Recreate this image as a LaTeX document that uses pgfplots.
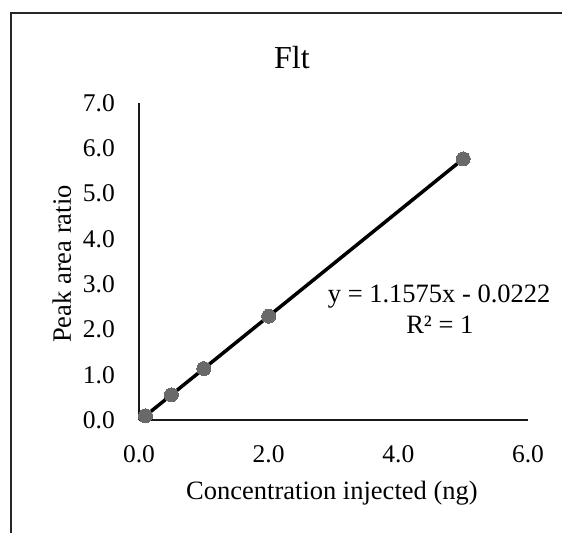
\documentclass[border=0pt]{standalone}
\usepackage{fontspec}
\setmainfont{Liberation Serif}
\usepackage{pgfplots}
\pgfplotsset{compat=1.18}
\definecolor{markgray}{RGB}{105,105,105}
\begin{document}
\begin{tikzpicture}[x=1pt,y=1pt]
\useasboundingbox (0,0) rectangle (562,533);
\draw[line width=1.5pt, black!85] (11,0) -- (11,520) -- (562,520);
\begin{axis}[at={(139pt,113pt)}, anchor=south west, scale only axis,
  width=389pt, height=317pt,
  xmin=0, xmax=6, ymin=0, ymax=7,
  axis x line=bottom, axis y line=left,
  axis line style={-, line width=1.2pt, black!90},
  xtick={0,2,4,6}, ytick={0,1,2,3,4,5,6,7},
  major tick length=0pt, tick style={draw=none},
  /pgf/number format/.cd, fixed, fixed zerofill, precision=1, assume math mode=true,
  /pgfplots/.cd,
  tick label style={font=\fontsize{25.5}{30}\selectfont, inner sep=0pt},
  xticklabel style={anchor=north, yshift=-25pt},
  yticklabel style={anchor=east, xshift=-24pt},
  clip=false]
\addplot[only marks, mark=*, mark size=7pt, mark options={fill=markgray, draw=markgray, line width=0pt}]
  coordinates {(0.1,0.094) (0.5,0.557) (1,1.135) (2,2.293) (5,5.765)};
\addplot[black, line width=3.5pt] coordinates {(0.1,0.0936) (5,5.7653)};
\node[anchor=base, font=\fontsize{26.5}{30}\selectfont, inner sep=0pt] at (rel axis cs:0.496,-0.252) {Concentration injected (ng)};
\node[anchor=base, rotate=90, font=\fontsize{26.5}{30}\selectfont, inner sep=0pt] at (rel axis cs:-0.175,0.492) {Peak area ratio};
\node[anchor=base, font=\fontsize{32}{36}\selectfont, inner sep=0pt] at (rel axis cs:0.393,1.110) {Flt};
\node[anchor=base, font=\fontsize{26.5}{30}\selectfont, inner sep=0pt] at (axis cs:4.63,2.605) {y = 1.1575x - 0.0222};
\node[anchor=base, font=\fontsize{26.5}{30}\selectfont, inner sep=0pt] at (axis cs:4.64,1.921) {R² = 1};
\end{axis}
\end{tikzpicture}
\end{document}
